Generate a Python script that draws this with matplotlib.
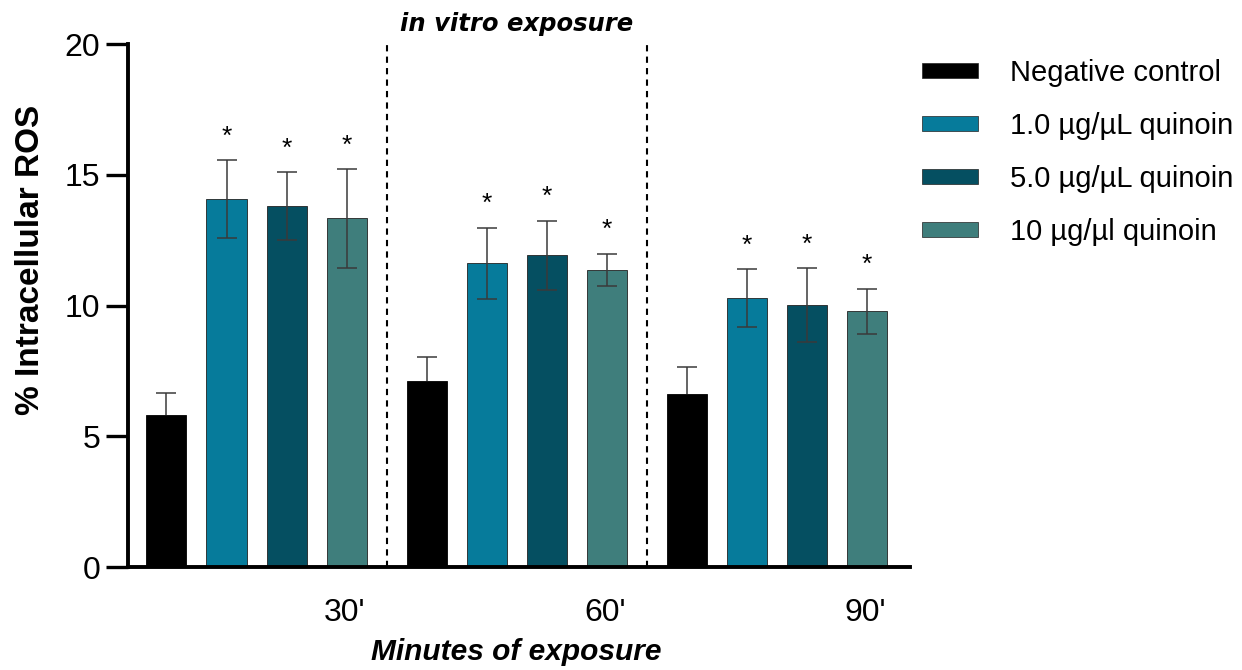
import matplotlib
matplotlib.use("Agg")
import matplotlib.pyplot as plt
from matplotlib.patches import Patch
import numpy as np

plt.rcParams['font.family'] = ['Liberation Sans', 'DejaVu Sans']

timepoints = ["30'", "60'", "90'"]
series = ["Negative control", "1.0 µg/µL quinoin", "5.0 µg/µL quinoin", "10 µg/µl quinoin"]
colors = ["#000000", "#067B9B", "#054F61", "#3F7E7C"]

means = {
    "Negative control":   [5.80, 7.10, 6.60],
    "1.0 µg/µL quinoin":  [14.07, 11.62, 10.28],
    "5.0 µg/µL quinoin":  [13.80, 11.93, 10.02],
    "10 µg/µl quinoin":   [13.33, 11.35, 9.78],
}
sds = {
    "Negative control":   [0.85, 0.95, 1.05],
    "1.0 µg/µL quinoin":  [1.48, 1.36, 1.10],
    "5.0 µg/µL quinoin":  [1.30, 1.32, 1.40],
    "10 µg/µl quinoin":   [1.88, 0.62, 0.86],
}
significant = {
    "Negative control":   [False, False, False],
    "1.0 µg/µL quinoin":  [True, True, True],
    "5.0 µg/µL quinoin":  [True, True, True],
    "10 µg/µl quinoin":   [True, True, True],
}

fig = plt.figure(figsize=(12.42, 6.70), dpi=100)
ax = fig.add_axes([0.103, 0.1537, 0.630, 0.7806])

group_step = 4.333
bar_w = 0.667
group_base = np.arange(len(timepoints)) * group_step

for i, s in enumerate(series):
    x = group_base + i
    m = np.array(means[s])
    e = np.array(sds[s])
    ax.bar(x, m, width=bar_w, color=colors[i],
           edgecolor="#222222" if i > 0 else "#000000", linewidth=0.6, zorder=2)
    lower = np.zeros_like(e) if i == 0 else e
    _, caps, _ = ax.errorbar(x, m, yerr=[lower, e], fmt="none", ecolor="#3a3a3a",
                             elinewidth=1.1, capsize=7.5, capthick=1.1, zorder=3)
    if i == 0:
        for c in caps:
            if np.allclose(c.get_ydata(), m):
                c.set_visible(False)
    for xi, mi, ei, sig in zip(x, m, e, significant[s]):
        if sig:
            ax.text(xi, mi + ei + 0.45, "*", ha="center", va="bottom",
                    fontsize=19, color="black")

# dashed separators
seps = []
for k in range(1, len(timepoints)):
    xs = group_base[k] - (group_step - 3) / 2
    seps.append(xs)
    ax.plot([xs, xs], [0, 20], ls=(0, (3, 2.5)), color="black", lw=1.5,
            zorder=1, clip_on=False)

ax.text((seps[0] + seps[1]) / 2, 20.3, "in vitro exposure",
        ha="center", va="bottom", fontsize=17.5, fontweight="bold", style="italic",
        family=["DejaVu Sans"])

ax.set_xlim(-0.642, 12.39)
ax.set_ylim(0, 20)
ax.set_yticks([0, 5, 10, 15, 20])
ax.set_xticks(group_base + 3 - 0.03)
ax.set_xticklabels(timepoints)

for sp in ["top", "right"]:
    ax.spines[sp].set_visible(False)
for sp in ["left", "bottom"]:
    ax.spines[sp].set_linewidth(2.8)

ax.tick_params(axis="y", length=16, width=2.4, labelsize=23, pad=4)
ax.tick_params(axis="x", length=0, labelsize=23, pad=22)

ax.set_ylabel("% Intracellular ROS", fontsize=24, fontweight="bold")
ax.yaxis.label.set_va("center")
ax.yaxis.set_label_coords(-0.124, 0.587)
ax.set_xlabel("Minutes of exposure", fontsize=21.5, fontweight="bold", style="italic")
ax.xaxis.label.set_va("baseline")
ax.xaxis.set_label_coords(0.496, -0.178)

handles = [Patch(facecolor=c, edgecolor="#222222", linewidth=0.5) for c in colors]
leg = fig.legend(handles, series, loc="upper left", bbox_to_anchor=(0.733, 0.929),
                 borderaxespad=0, frameon=False, fontsize=21, handlelength=1.92,
                 handleheight=0.42, labelspacing=0.85, handletextpad=1.1)

fig.savefig("out.png", dpi=100)
